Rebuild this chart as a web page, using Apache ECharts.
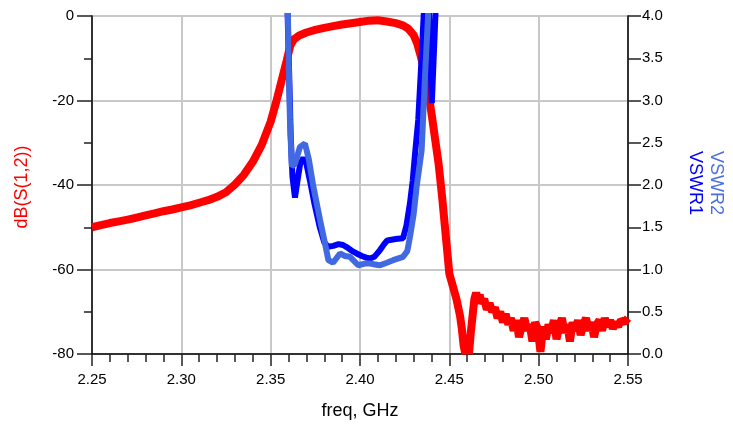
<!DOCTYPE html>
<html>
<head>
<meta charset="utf-8">
<script src="https://cdn.jsdelivr.net/npm/echarts@6/dist/echarts.min.js"></script>
<style>html,body{margin:0;padding:0;background:#fff}#c{width:733px;height:430px}</style>
</head>
<body>
<div id="c"></div>
<script>
// S12 (dB)
var s12Freq = [2.250,2.255,2.260,2.265,2.270,2.275,2.280,2.285,2.290,2.295,2.300,2.305,2.310,2.315,2.320,2.325,2.330,2.335,2.340,2.345,2.350,2.353,2.356,2.359,2.361,2.363,2.366,2.370,2.375,2.380,2.385,2.390,2.395,2.400,2.405,2.410,2.415,2.420,2.424,2.427,2.430,2.432,2.434,2.436,2.438,2.440,2.442,2.444,2.446,2.448,2.450,2.452,2.454,2.455,2.456,2.457,2.458,2.459,2.460,2.461,2.462,2.463,2.464,2.465,2.466,2.467,2.468,2.4695,2.471,2.4725,2.474,2.4755,2.477,2.4785,2.480,2.4815,2.483,2.4845,2.486,2.4875,2.489,2.4905,2.492,2.4935,2.495,2.4965,2.498,2.4995,2.501,2.5025,2.504,2.5055,2.507,2.5085,2.510,2.5115,2.513,2.5145,2.516,2.5175,2.519,2.5205,2.522,2.5235,2.525,2.5265,2.528,2.5295,2.531,2.5325,2.534,2.5355,2.537,2.5385,2.540,2.5415,2.543,2.5445,2.546,2.548,2.550];
var s12dB = [-50.0,-49.5,-49.0,-48.6,-48.2,-47.7,-47.2,-46.7,-46.2,-45.8,-45.3,-44.8,-44.2,-43.6,-42.8,-41.7,-39.9,-37.6,-34.5,-30.5,-25.0,-20.5,-15.5,-10.5,-7.0,-5.5,-4.6,-3.9,-3.3,-2.8,-2.4,-2.0,-1.7,-1.4,-1.1,-1.0,-1.3,-1.7,-2.2,-3.0,-4.5,-6.5,-9.5,-13.0,-17.5,-23.0,-29.0,-35.0,-43.0,-52.0,-61.0,-64.0,-67.0,-69.0,-71.0,-74.0,-78.0,-80.0,-76.0,-80.0,-75.0,-71.0,-67.0,-65.5,-67.0,-66.0,-68.0,-67.0,-69.5,-68.0,-70.0,-69.0,-71.5,-70.0,-72.5,-70.5,-73.0,-71.5,-74.5,-72.0,-76.0,-73.5,-71.5,-74.5,-73.0,-77.0,-72.5,-74.0,-79.5,-73.5,-76.5,-73.0,-75.0,-72.0,-76.5,-73.5,-71.5,-75.0,-73.0,-77.0,-72.5,-74.5,-72.0,-75.5,-73.0,-71.5,-74.5,-72.5,-76.0,-73.0,-72.0,-74.5,-71.5,-73.5,-72.0,-74.0,-72.5,-73.5,-72.0,-72.5,-71.5,-71.0];
// VSWR1
var vswr1Freq = [2.3585,2.3595,2.3605,2.3612,2.3622,2.3636,2.3650,2.3665,2.3683,2.3700,2.3720,2.3745,2.3775,2.3800,2.3821,2.3850,2.3880,2.3905,2.3930,2.3955,2.3981,2.4010,2.4035,2.4056,2.4080,2.4100,2.4112,2.4135,2.4150,2.4168,2.4200,2.4241,2.4260,2.4280,2.4295,2.4308,2.4326,2.4345,2.4375,2.4402,2.4422,2.4435];
var vswr1 = [5.0,4.0,3.2,2.6,2.1,1.85,2.05,2.25,2.32,2.25,2.05,1.78,1.50,1.32,1.27,1.28,1.30,1.29,1.26,1.22,1.19,1.16,1.14,1.13,1.15,1.20,1.23,1.30,1.34,1.35,1.36,1.37,1.52,1.79,2.05,2.37,2.77,3.52,4.8,2.97,4.0,5.0];
// VSWR2
var vswr2Freq = [2.3585,2.3595,2.3603,2.3608,2.3618,2.3636,2.3664,2.3692,2.3714,2.3739,2.3776,2.3804,2.3823,2.3849,2.3888,2.3916,2.3944,2.3990,2.4028,2.4056,2.4085,2.4112,2.4150,2.4185,2.4241,2.4265,2.4280,2.4300,2.4317,2.4345,2.4364,2.4381,2.4395];
var vswr2 = [5.0,4.2,3.2,2.77,2.22,2.25,2.45,2.49,2.30,1.98,1.59,1.31,1.11,1.08,1.19,1.16,1.15,1.05,1.07,1.07,1.06,1.05,1.08,1.11,1.15,1.22,1.39,1.65,1.98,2.41,3.3,4.0,4.8];
var xTicks = {min: 2.25, max: 2.55, interval: 0.05, minorInterval: 0.01};
var yLeft = {min: -80, max: 0, interval: 20, minorInterval: 10};
var yRight = {min: 0, max: 4, interval: 0.5};

function pairs(xs, ys){ return xs.map(function(x,i){ return [x, ys[i]]; }); }

var chart = echarts.init(document.getElementById('c'), null, {renderer:'canvas'});
var font = 'Liberation Sans, Arial, sans-serif';
var tickStyle = {color: '#222', width: 1.5};
chart.setOption({
  animation: false,
  backgroundColor: '#fff',
  grid: {left: 92, right: 105, top: 16, bottom: 76, show: true, borderColor: '#000', borderWidth: 1.5, backgroundColor: 'transparent'},
  xAxis: [{
    type: 'value', min: xTicks.min, max: xTicks.max, interval: xTicks.interval,
    axisLine: {onZero: false, lineStyle: {color: '#000', width: 1.5}},
    axisTick: {show: true, inside: false, length: 12, lineStyle: tickStyle},
    minorTick: {show: false},
    splitLine: {show: true, lineStyle: {color: '#c8c8c8', width: 2}},
    axisLabel: {margin: 18, fontSize: 15, color: '#000', fontFamily: font, formatter: function(v){ return v.toFixed(2); }},
    name: 'freq, GHz', nameLocation: 'middle', nameGap: 48,
    nameTextStyle: {fontSize: 18, color: '#000', fontFamily: font}
  }, {
    type: 'value', position: 'bottom', offset: 0, min: xTicks.min, max: xTicks.max, interval: xTicks.minorInterval,
    axisLine: {show: false, onZero: false},
    axisTick: {show: true, inside: false, length: 8, lineStyle: tickStyle},
    splitLine: {show: false}, axisLabel: {show: false}
  }],
  yAxis: [{
    type: 'value', position: 'left', min: yLeft.min, max: yLeft.max, interval: yLeft.interval,
    axisLine: {show: true, onZero: false, lineStyle: {color: '#000', width: 1.5}},
    axisTick: {show: true, inside: false, length: 15, lineStyle: tickStyle},
    minorTick: {show: false},
    splitLine: {show: true, lineStyle: {color: '#c8c8c8', width: 2}},
    axisLabel: {margin: 18, fontSize: 15, color: '#000', fontFamily: font}
  }, {
    type: 'value', position: 'right', min: yRight.min, max: yRight.max, interval: yRight.interval,
    axisLine: {show: true, onZero: false, lineStyle: {color: '#000', width: 1.5}},
    axisTick: {show: true, inside: false, length: 13, lineStyle: tickStyle},
    splitLine: {show: false},
    axisLabel: {margin: 14, fontSize: 15, color: '#000', fontFamily: font, formatter: function(v){ return v.toFixed(1); }}
  }, {
    type: 'value', position: 'left', offset: 0, min: yLeft.min, max: yLeft.max, interval: yLeft.minorInterval,
    axisLine: {show: false, onZero: false},
    axisTick: {show: true, inside: false, length: 8, lineStyle: tickStyle},
    splitLine: {show: false}, axisLabel: {show: false}
  }],
  series: [{
    name: 'dB(S(1,2))', type: 'line', yAxisIndex: 0, showSymbol: false, symbol: 'none',
    data: pairs(s12Freq, s12dB), lineStyle: {color: '#ff0000', width: 8}, clip: true, z: 2
  }, {
    name: 'VSWR1', type: 'line', yAxisIndex: 1, showSymbol: false, symbol: 'none',
    data: pairs(vswr1Freq, vswr1), lineStyle: {color: '#0000ff', width: 6}, clip: true, z: 3
  }, {
    name: 'VSWR2', type: 'line', yAxisIndex: 1, showSymbol: false, symbol: 'none',
    data: pairs(vswr2Freq, vswr2), lineStyle: {color: '#4169e1', width: 6}, clip: true, z: 4
  }],
  graphic: [{
    type: 'text', x: 22, y: 187, rotation: Math.PI/2,
    style: {text: 'dB(S(1,2))', fill: '#ff0000', font: '18px ' + font, textAlign: 'center', textVerticalAlign: 'middle'}
  }, {
    type: 'text', x: 695, y: 183, rotation: -Math.PI/2,
    style: {text: 'VSWR1', fill: '#0000ff', font: '18px ' + font, textAlign: 'center', textVerticalAlign: 'middle'}
  }, {
    type: 'text', x: 716, y: 183, rotation: -Math.PI/2,
    style: {text: 'VSWR2', fill: '#4a6fe3', font: '18px ' + font, textAlign: 'center', textVerticalAlign: 'middle'}
  }]
});
</script>
</body>
</html>
